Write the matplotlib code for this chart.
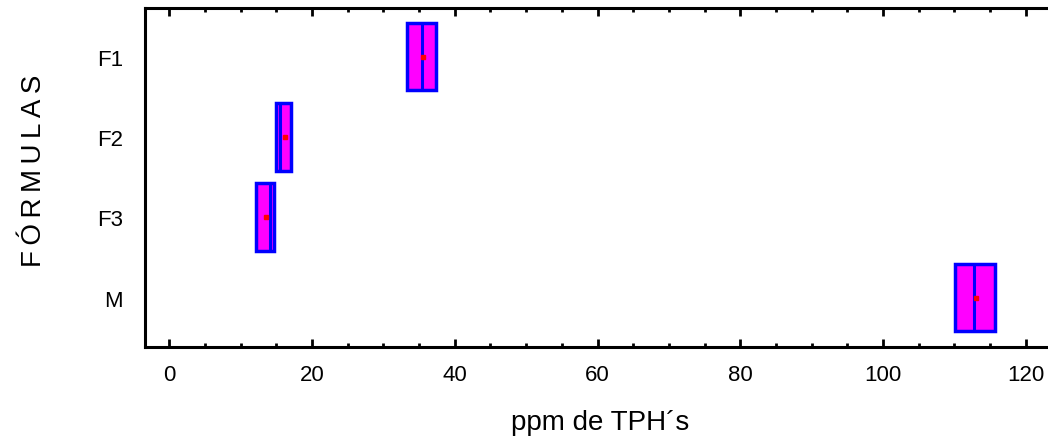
import matplotlib
matplotlib.use("Agg")
import matplotlib.pyplot as plt

# data (ppm de TPH's)
labels = ["F1", "F2", "F3", "M"]
q1 = [33.3, 15.0, 12.2, 110.1]
q3 = [37.4, 17.0, 14.7, 115.7]
medians = [35.4, 15.5, 14.1, 112.7]
means = [35.6, 16.2, 13.5, 113.0]

plt.rcParams["font.family"] = ["Liberation Sans", "DejaVu Sans"]

fig = plt.figure(figsize=(10.48, 4.39), dpi=100)
ax = fig.add_axes([145 / 1048, 1 - 348 / 439, (1048 - 145) / 1048, (348 - 9) / 439])

# build the stats for bxp (no whiskers visible, they sit on the box edges)
pos = list(range(len(labels), 0, -1))
stats = []
for i, lab in enumerate(labels):
    stats.append({
        "label": lab,
        "q1": q1[i], "q3": q3[i], "med": medians[i], "mean": means[i],
        "whislo": q1[i], "whishi": q3[i], "fliers": [],
    })

ax.bxp(stats, positions=pos, widths=0.84, orientation="horizontal",
       patch_artist=True, showmeans=True, showcaps=False,
       boxprops=dict(facecolor="#ff00ff", edgecolor="#0000ff", linewidth=2.5),
       medianprops=dict(color="#0000ff", linewidth=2.2),
       whiskerprops=dict(color="#0000ff", linewidth=2.5),
       meanprops=dict(marker="s", markerfacecolor="red", markeredgecolor="red",
                      markersize=3.5))

ax.set_xlim(-3.4, 123.1)
ax.set_ylim(0.384, 4.604)
ax.set_xticks([0, 20, 40, 60, 80, 100, 120])
ax.set_xticks(range(0, 125, 5), minor=True)
ax.set_yticks(pos)
ax.set_yticklabels(labels)

ax.tick_params(axis="x", which="both", direction="in", top=True, bottom=True,
               labelsize=16, pad=12, width=2)
ax.tick_params(axis="x", which="major", length=6)
ax.tick_params(axis="x", which="minor", length=3)
ax.tick_params(axis="y", length=0, labelsize=16, pad=16)

for side in ["left", "bottom", "top"]:
    ax.spines[side].set_linewidth(2.2)
ax.spines["right"].set_visible(False)

fig.text(600 / 1048, 1 - 430 / 439, "ppm de TPH´s", ha="center", va="baseline",
         fontsize=20)
fig.text(34 / 1048, 1 - 171 / 439, "\u2009".join("FÓRMULAS"), rotation=90,
         ha="center", va="center", fontsize=20)

fig.savefig("out.png", dpi=100)
